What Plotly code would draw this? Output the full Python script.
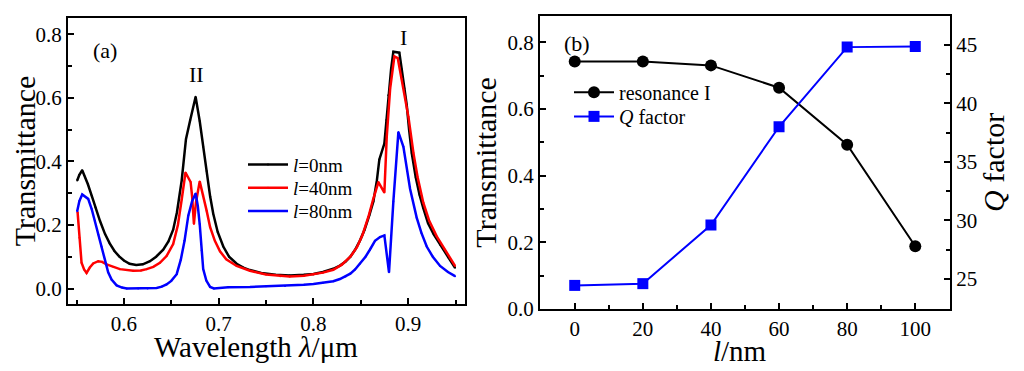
import plotly.graph_objects as go

# ---------------- Panel (a) data ----------------
wl_l0 = [0.5507, 0.553, 0.556, 0.559, 0.562, 0.566, 0.570, 0.5747, 0.580, 0.585, 0.590, 0.595,
         0.600, 0.606, 0.613, 0.620, 0.6275, 0.634, 0.6415, 0.647, 0.652, 0.656, 0.661, 0.6655,
         0.670, 0.6757, 0.680, 0.6837, 0.6873, 0.691, 0.6943, 0.699, 0.7049, 0.711, 0.719,
         0.726, 0.733, 0.745, 0.760, 0.775, 0.790, 0.800, 0.810, 0.821, 0.828, 0.834, 0.839,
         0.844, 0.849, 0.854, 0.859, 0.8633, 0.867, 0.8696, 0.8749, 0.877, 0.879, 0.882,
         0.8844, 0.8907, 0.8932, 0.896, 0.8985, 0.901, 0.9038, 0.908, 0.912, 0.916, 0.921,
         0.927, 0.9337, 0.942, 0.9495]
tr_l0 = [0.340, 0.358, 0.372, 0.352, 0.328, 0.292, 0.255, 0.213, 0.172, 0.142, 0.118, 0.101,
         0.088, 0.078, 0.074, 0.076, 0.086, 0.100, 0.122, 0.148, 0.185, 0.240, 0.340, 0.470,
         0.530, 0.603, 0.527, 0.446, 0.370, 0.290, 0.235, 0.178, 0.132, 0.100, 0.078,
         0.066, 0.058, 0.049, 0.043, 0.041, 0.043, 0.046, 0.052, 0.062, 0.072, 0.085, 0.100,
         0.122, 0.150, 0.185, 0.230, 0.274, 0.340, 0.406, 0.456, 0.530, 0.608, 0.690,
         0.745, 0.742, 0.690, 0.630, 0.578, 0.500, 0.426, 0.350, 0.295, 0.253, 0.205,
         0.170, 0.138, 0.098, 0.065]

wl_l40 = [0.5511, 0.553, 0.5553, 0.558, 0.5606, 0.564, 0.5676, 0.5729, 0.577, 0.5817, 0.589,
          0.5958, 0.6098, 0.618, 0.624, 0.631, 0.638, 0.645, 0.652, 0.657, 0.661, 0.665,
          0.6704, 0.672, 0.6739, 0.676, 0.680, 0.6837, 0.6873, 0.691, 0.696, 0.7014, 0.708,
          0.719, 0.733, 0.750, 0.765, 0.775, 0.790, 0.800, 0.810, 0.821, 0.830, 0.839, 0.846,
          0.852, 0.858, 0.863, 0.8686, 0.8749, 0.8774, 0.881, 0.8855, 0.889, 0.8932, 0.897,
          0.9003, 0.9056, 0.910, 0.916, 0.922, 0.930, 0.938, 0.944, 0.9495]
tr_l40 = [0.241, 0.160, 0.081, 0.060, 0.049, 0.066, 0.079, 0.086, 0.084, 0.076, 0.068,
          0.061, 0.056, 0.057, 0.061, 0.068, 0.081, 0.102, 0.140, 0.200, 0.280, 0.365,
          0.335, 0.290, 0.203, 0.270, 0.337, 0.294, 0.245, 0.193, 0.150, 0.117, 0.092,
          0.071, 0.056, 0.044, 0.039, 0.038, 0.040, 0.044, 0.050, 0.059, 0.075, 0.100, 0.130,
          0.170, 0.225, 0.280, 0.335, 0.302, 0.477, 0.629, 0.730, 0.725, 0.660, 0.600,
          0.540, 0.426, 0.350, 0.270, 0.215, 0.165, 0.125, 0.095, 0.071]

wl_l80 = [0.5507, 0.553, 0.556, 0.5623, 0.566, 0.5694, 0.573, 0.5764, 0.580, 0.5834, 0.587,
          0.5923, 0.598, 0.603, 0.615, 0.625, 0.6345, 0.640, 0.645, 0.650, 0.6557, 0.660,
          0.664, 0.668, 0.672, 0.6757, 0.678, 0.680, 0.682, 0.6837, 0.687, 0.691, 0.695,
          0.7014, 0.710, 0.733, 0.750, 0.770, 0.790, 0.800, 0.810, 0.821, 0.828, 0.834,
          0.839, 0.844, 0.849, 0.855, 0.8596, 0.865, 0.8703, 0.8749, 0.8798, 0.8844,
          0.8897, 0.895, 0.902, 0.909, 0.914, 0.9196, 0.926, 0.9337, 0.942, 0.9495]
tr_l80 = [0.243, 0.275, 0.296, 0.282, 0.250, 0.213, 0.170, 0.132, 0.090, 0.051, 0.028,
          0.010, 0.003, 0.000, 0.000, 0.000, 0.002, 0.006, 0.013, 0.024, 0.045, 0.090,
          0.150, 0.230, 0.275, 0.299, 0.260, 0.203, 0.120, 0.061, 0.025, 0.005, 0.000,
          0.002, 0.004, 0.005, 0.007, 0.008, 0.012, 0.014, 0.018, 0.023, 0.030, 0.038,
          0.047, 0.060, 0.078, 0.100, 0.122, 0.150, 0.162, 0.167, 0.051, 0.274,
          0.492, 0.446, 0.314, 0.223, 0.175, 0.132, 0.100, 0.071, 0.052, 0.039]

legend_a = ["<i>l</i>=0nm", "<i>l</i>=40nm", "<i>l</i>=80nm"]
colors_a = ["#000000", "#ff0000", "#0000ff"]

# ---------------- Panel (b) data ----------------
l_nm = [0, 20, 40, 60, 80, 100]
res_I = [0.743, 0.743, 0.731, 0.664, 0.493, 0.188]
q_factor = [24.45, 24.6, 29.6, 38.0, 44.8, 44.85]
xticks_a = [0.6, 0.7, 0.8, 0.9]
xticks_b = [0, 20, 40, 60, 80, 100]

FONT = "Liberation Serif, Times New Roman, serif"
# the page shows the figure shifted 8px to the right (body margin); vertically it is not shifted
OFFX, OFFY = 8, 0
W, H = 1024 - OFFX, 371
def px(x): return (x - OFFX) / W
def py(y): return 1 - (y - OFFY) / H

fig = go.Figure()

leg_names_a = ["legend", "legend2", "legend3"]
for xs, ys, name, col, lg in zip([wl_l0, wl_l40, wl_l80], [tr_l0, tr_l40, tr_l80], legend_a, colors_a, leg_names_a):
    fig.add_trace(go.Scatter(x=xs, y=ys, name=name, mode="lines+markers",
                             line=dict(color=col, width=2.5), marker=dict(size=2, color=col),
                             xaxis="x", yaxis="y", legend=lg))

fig.add_trace(go.Scatter(x=l_nm, y=res_I, name="resonance I", mode="lines+markers",
                         line=dict(color="#000000", width=2), marker=dict(symbol="circle", size=12, color="#000000"),
                         xaxis="x2", yaxis="y2", legend="legend4"))
fig.add_trace(go.Scatter(x=l_nm, y=q_factor, name="<i>Q</i> factor", mode="lines+markers",
                         line=dict(color="#0000ff", width=2), marker=dict(symbol="square", size=11, color="#0000ff"),
                         xaxis="x2", yaxis="y3", legend="legend5"))

tick_font = dict(family=FONT, size=21, color="black")
title_font = dict(family=FONT, size=30, color="black")
xtitle_font = dict(family=FONT, size=29, color="black")
minor_common = dict(ticks="inside", ticklen=4, tickcolor="black", tickwidth=1.5)
ax_common = dict(showline=True, linecolor="black", linewidth=2, mirror=True, ticks="inside",
                 ticklen=6, tickwidth=1.5, tickcolor="black", showgrid=False, zeroline=False,
                 tickfont=tick_font)

def leg(x, y, size):
    return dict(x=px(x), y=py(y), xanchor="left", yanchor="middle", bgcolor="rgba(0,0,0,0)",
                font=dict(family=FONT, size=size, color="black"), itemwidth=40)

fig.update_layout(
    width=W, height=H, paper_bgcolor="white", plot_bgcolor="white",
    margin=dict(l=0, r=0, t=0, b=0),
    font=dict(family=FONT, color="black"),
    xaxis=dict(ax_common, domain=[px(68), px(465)], range=[0.541, 0.960], tickvals=xticks_a,
               ticktext=[f"{v:.1f}" for v in xticks_a],
               minor=dict(minor_common, dtick=0.05, tick0=0.55), anchor="y"),
    yaxis=dict(ax_common, domain=[py(306), py(10)], range=[-0.049, 0.852], dtick=0.2, tick0=0,
               tickformat=".1f", minor=dict(minor_common, dtick=0.1),
               title=dict(text="Transmittance", standoff=0, font=title_font), anchor="x"),
    xaxis2=dict(ax_common, domain=[px(540), px(950)], range=[-10.2, 110.2], tickvals=xticks_b,
                minor=dict(minor_common, dtick=10, tick0=0), anchor="y2"),
    yaxis2=dict(ax_common, domain=[py(311), py(8)], range=[0, 0.88], dtick=0.2, tick0=0,
                tickformat=".1f", minor=dict(minor_common, dtick=0.1),
                title=dict(text="Transmittance", standoff=2, font=title_font), anchor="x2"),
    yaxis3=dict(ax_common, domain=[py(311), py(8)], range=[22.44, 47.48], dtick=5, tick0=0,
                overlaying="y2", side="right", anchor="x2", mirror=False,
                minor=dict(minor_common, dtick=2.5),
                title=dict(text="<i>Q</i> factor", standoff=1, font=title_font)),
    legend=leg(243, 162, 19),
    legend2=leg(243, 186, 19),
    legend3=leg(243, 210, 19),
    legend4=leg(569, 87, 20),
    legend5=leg(569, 112, 20),
    showlegend=True,
)

# x-axis titles
for text, x, y in [("Wavelength <i>λ</i>/μm", 256, 350), ("<i>l</i>/nm", 740, 354)]:
    fig.add_annotation(text=text, x=px(x), y=py(y), xref="paper", yref="paper",
                       showarrow=False, font=xtitle_font, xanchor="center", yanchor="middle")

ann_font = dict(family=FONT, size=22, color="black")
for text, x, y in [("(a)", 105, 44), ("II", 196, 69), ("I", 403, 31), ("(b)", 577, 37)]:
    fig.add_annotation(text=text, x=px(x), y=py(y), xref="paper", yref="paper",
                       showarrow=False, font=ann_font, xanchor="center", yanchor="middle")

fig.write_html("out.html")
